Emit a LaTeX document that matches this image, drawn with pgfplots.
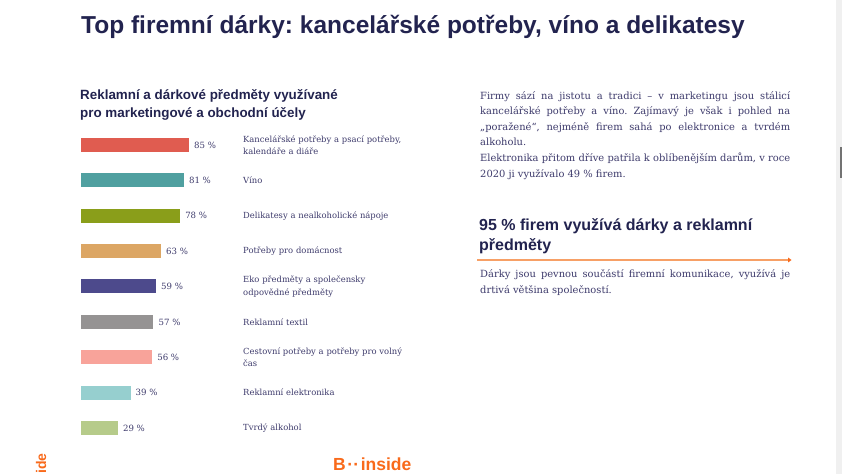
\documentclass[border=0pt]{standalone}
\usepackage{pgfplots}
\pgfplotsset{compat=1.18}
\usepackage{fontspec}
\setmainfont{DejaVu Serif}
\newfontfamily\headfont{Liberation Sans}
\frenchspacing
\definecolor{navy}{HTML}{22234F}
\definecolor{txt}{HTML}{3E3B6C}
\definecolor{c1}{HTML}{E05C50}
\definecolor{c2}{HTML}{50A0A0}
\definecolor{c3}{HTML}{8A9E1A}
\definecolor{c4}{HTML}{DCA664}
\definecolor{c5}{HTML}{4D4A8C}
\definecolor{c6}{HTML}{959393}
\definecolor{c7}{HTML}{F8A39A}
\definecolor{c8}{HTML}{96CFCF}
\definecolor{c9}{HTML}{B6CB8A}
\definecolor{brand}{HTML}{F96A1B}
\definecolor{lineor}{HTML}{F7A066}
\newcommand{\bodyfont}{\fontsize{9.9bp}{12bp}\selectfont}
\newcommand{\jl}[1]{\makebox[310bp][s]{#1}}
\begin{document}
\begin{tikzpicture}[x=1bp,y=1bp]
\useasboundingbox (0,0) rectangle (842,474);
\fill[white] (0,0) rectangle (842,474);
\fill[black!6!white] (836,0) rectangle (842,474);
\fill[black!55] (840,296) rectangle (842,327);
% title
\node[anchor=base west, inner sep=0, text=navy, font=\headfont\bfseries\fontsize{24.5bp}{28bp}\selectfont] at (81,474-33.3) {Top firemní dárky: kancelářské potřeby, víno a delikatesy};
% subtitle
\node[anchor=base west, inner sep=0, text=navy, font=\headfont\bfseries\fontsize{13.4bp}{15bp}\selectfont] at (80,474-100) {Reklamní a dárkové předměty využívané};
\node[anchor=base west, inner sep=0, text=navy, font=\headfont\bfseries\fontsize{13.4bp}{15bp}\selectfont] at (80,474-118) {pro marketingové a obchodní účely};
% chart
\begin{axis}[at={(81bp,346.7bp)}, anchor=north west, scale only axis,
  width=127bp, height=318.4bp, xmin=0, xmax=100, ymin=0.5, ymax=9.5, y dir=reverse,
  xbar, bar width=14bp, axis line style={draw=none}, major tick length=0pt,
  xtick=\empty, ytick={1,...,9}, clip=false,
  /pgf/number format/assume math mode=true,
  yticklabel pos=right,
  yticklabels={{Kancelářské potřeby a psací potřeby,\\kalendáře a diáře},{Víno},{Delikatesy a nealkoholické nápoje},{Potřeby pro domácnost},{Eko předměty a společensky\\odpovědné předměty},{Reklamní textil},{Cestovní potřeby a potřeby pro volný\\čas},{Reklamní elektronika},{Tvrdý alkohol}},
  yticklabel style={anchor=west, inner sep=0pt, xshift=35bp, text width=200bp, align=left, text=txt, font=\fontsize{8.4bp}{12.3bp}\selectfont},
  nodes near coords={\pgfmathprintnumber{\pgfplotspointmeta}~\%},
  nodes near coords style={anchor=west, inner sep=0pt, xshift=5bp, text=txt, font=\fontsize{8.6bp}{12bp}\selectfont},
  every axis plot/.append style={draw=none, bar shift=0pt}]
\addplot[fill=c1] coordinates {(85,1)};
\addplot[fill=c2] coordinates {(81,2)};
\addplot[fill=c3] coordinates {(78,3)};
\addplot[fill=c4] coordinates {(63,4)};
\addplot[fill=c5] coordinates {(59,5)};
\addplot[fill=c6] coordinates {(57,6)};
\addplot[fill=c7] coordinates {(56,7)};
\addplot[fill=c8] coordinates {(39,8)};
\addplot[fill=c9] coordinates {(29,9)};
\end{axis}
% right text
\begin{scope}[every node/.style={anchor=base west, inner sep=0, text=txt, font=\bodyfont}]
\node at (480,474-99.5) {\jl{Firmy sází na jistotu a tradici – v marketingu jsou stálicí}};
\node at (480,474-115) {\jl{kancelářské potřeby a víno. Zajímavý je však i pohled na}};
\node at (480,474-130.5) {\jl{„poražené“, nejméně firem sahá po elektronice a tvrdém}};
\node at (480,474-146) {alkoholu.};
\node at (480,474-162) {\jl{Elektronika přitom dříve patřila k oblíbenějším darům, v roce}};
\node at (480,474-178) {2020 ji využívalo 49 \% firem.};
\node at (480,474-277.5) {\jl{Dárky jsou pevnou součástí firemní komunikace, využívá je}};
\node at (480,474-294) {drtivá většina společností.};
\end{scope}
\node[anchor=base west, inner sep=0, text=navy, font=\headfont\bfseries\fontsize{16bp}{19bp}\selectfont] at (479,474-230.5) {95 \% firem využívá dárky a reklamní};
\node[anchor=base west, inner sep=0, text=navy, font=\headfont\bfseries\fontsize{16bp}{19bp}\selectfont] at (479,474-250.5) {předměty};
\draw[lineor, line width=1.2bp] (477,474-260) -- (789,474-260);
\fill[brand] (788,474-257.5) -- (791.5,474-260) -- (788,474-262.5) -- cycle;
% brand
\node[anchor=base west, inner sep=0, text=brand, font=\headfont\bfseries\fontsize{17.5bp}{20bp}\selectfont] at (333,474-471) {B\kern1.5bp·\kern0.3bp·\kern1.5bp inside};
\node[anchor=base west, inner sep=0, text=brand, rotate=90, font=\headfont\bfseries\fontsize{14bp}{16bp}\selectfont] at (46,474-474) {ide};
\end{tikzpicture}
\end{document}
